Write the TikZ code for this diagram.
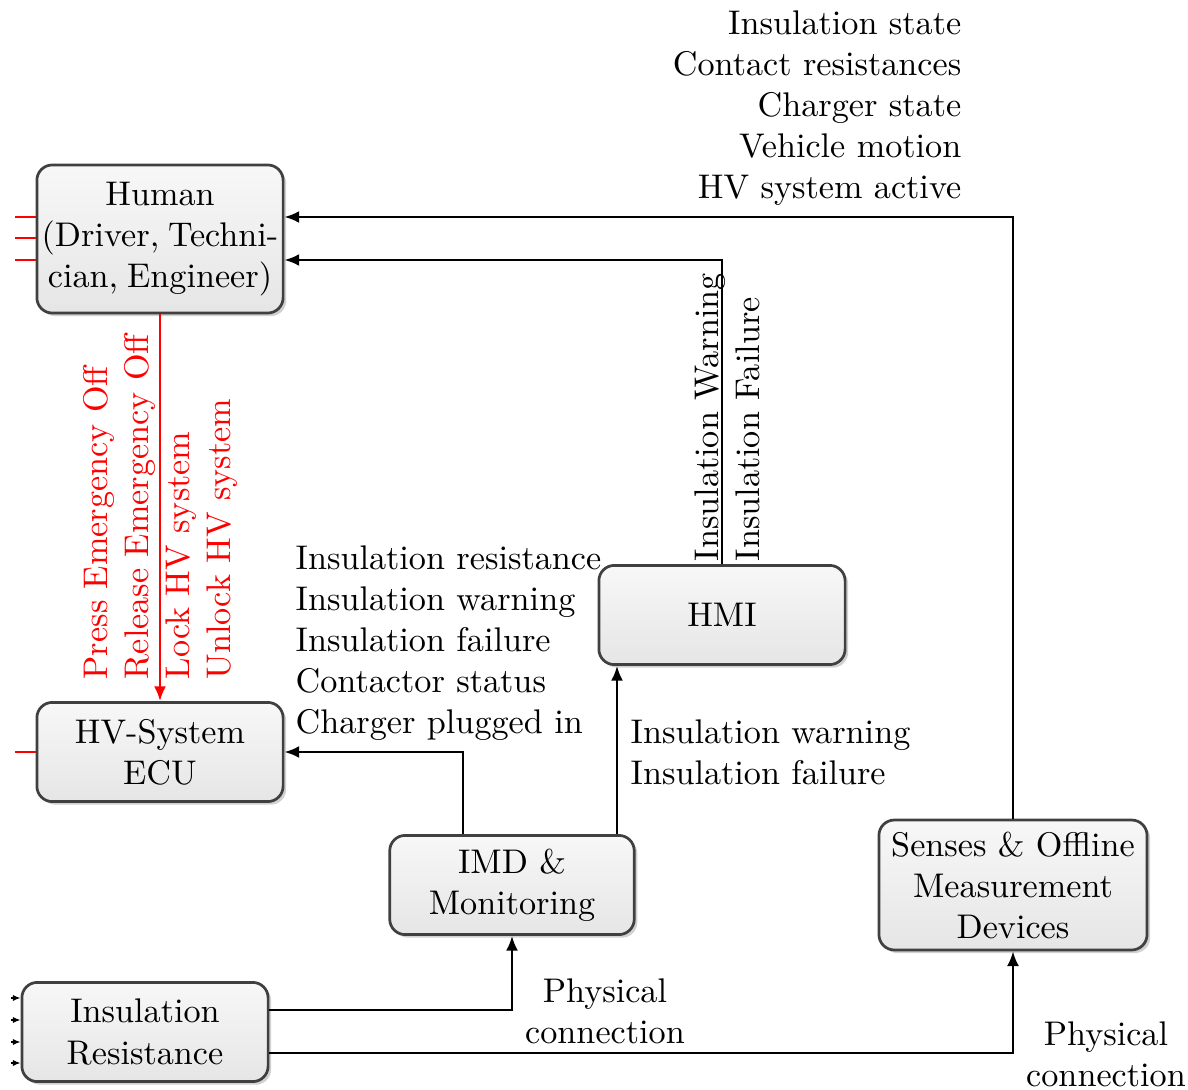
\documentclass[tikz,border=0pt]{standalone}
\usetikzlibrary{arrows.meta,shadows}
\begin{document}
\begin{tikzpicture}[x=0.2924pt,y=-0.2924pt,
  blk/.style={draw=black!75, line width=0.8pt, rounded corners=4.5pt,
    top color=gray!6, bottom color=gray!20,
    drop shadow={shadow xshift=0.9pt, shadow yshift=-0.9pt, opacity=0.3, fill=black!60},
    align=center, inner sep=2pt, minimum width=72pt, minimum height=29pt},
  conn/.style={line width=0.65pt, -{Latex[length=4.3pt,width=3.5pt]}},
  redconn/.style={conn, draw=red},
  stub/.style={draw=red, line width=0.65pt},
  inarrow/.style={line width=0.4pt, -{Latex[length=2.2pt,width=1.8pt]}},
  lbl/.style={inner sep=0pt, align=left},
  lblr/.style={inner sep=0pt, align=right},
  lblc/.style={inner sep=0pt, align=center}]
\useasboundingbox (0,0) rectangle (1188,1090);

% blocks
\node[blk, minimum height=43.3pt, inner xsep=0pt, font={\spaceskip=2.6pt\relax}] (human) at (160,239)
  {Human\\(Driver, Techni-\\cian, Engineer)};
\node[blk] (hvecu) at (160,752) {HV-System\\ECU};
\node[blk] (hmi) at (722,615) {HMI};
\node[blk, minimum width=71.5pt] (imd) at (512,885) {IMD \&\\Monitoring};
\node[blk] (insres) at (145,1032) {Insulation\\Resistance};
\node[blk, minimum width=78.4pt, minimum height=38pt] (senses) at (1013,885) {Senses \& Offline\\Measurement\\Devices};

% connectors
\draw[conn] (senses.north) |- (human.east |- 0,217);
\draw[conn] (hmi.north) |- (human.east |- 0,260);
\draw[redconn] (human.south) -- (hvecu.north);
\draw[conn] (imd.north -| 463,0) |- (hvecu.east);
\draw[conn] (imd.north -| 617,0) -- (hmi.south -| 617,0);
\draw[conn] (insres.east |- 0,1010) -| (imd.south);
\draw[conn] (insres.east |- 0,1053) -| (senses.south);

% inputs on the left
\foreach \yy in {217,238,260} \draw[stub] (human.west |- 0,\yy) -- (15,\yy);
\draw[stub] (hvecu.west) -- (15,752);
\foreach \yy in {998,1020,1042,1063} \draw[inarrow] (11,\yy) -- (insres.west |- 0,\yy);

% labels
\node[lblr, anchor=north east] (lsenses) at (962,10)
  {Insulation state\\Contact resistances\\Charger state\\Vehicle motion\\HV system active};
\node[lbl, anchor=north west, rotate=90, text=red] (lhuman) at (83,680)
  {Press Emergency Off\\Release Emergency Off\\Lock HV system\\Unlock HV system};
\node[lbl, anchor=north west, rotate=90] (lhmi) at (694,562)
  {Insulation Warning\\Insulation Failure};
\node[lbl, anchor=north west] (limdecu) at (295,545)
  {Insulation resistance\\Insulation warning\\Insulation failure\\Contactor status\\Charger plugged in};
\node[lbl, anchor=north west] (limdhmi) at (630,719)
  {Insulation warning\\Insulation failure};
\node[lblc, anchor=north] (lphys1) at (605,978) {Physical\\connection};
\node[lblc, anchor=north] (lphys2) at (1106,1021) {Physical\\connection};
\end{tikzpicture}
\end{document}
